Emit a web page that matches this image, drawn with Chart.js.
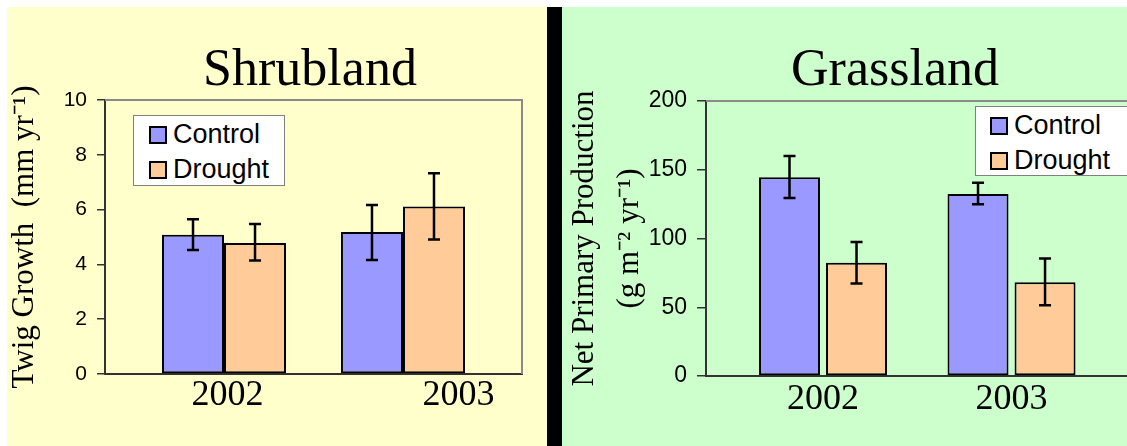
<!DOCTYPE html>
<html lang="en">
<head>
<meta charset="UTF-8">
<title>Shrubland / Grassland drought experiment</title>
<script src="https://cdn.jsdelivr.net/npm/chart.js"></script>
<style>
  html, body { margin: 0; padding: 0; overflow: hidden; }
  body { position: relative; width: 1127px; height: 446px; background: #fff;
         font-family: "Liberation Sans", Arial, sans-serif; }
  .panel { position: absolute; top: 7px; height: 439px; }
  #shrubPanel { left: 7px; width: 540px; background: #ffffcc; }
  #divider { left: 547px; width: 15px; background: #000; }
  #grassPanel { left: 562px; width: 600px; background: #ccffcc; }
  canvas { position: absolute; top: 0; }
  .title { position: absolute; top: 42px; transform: translateX(-50%); white-space: nowrap;
           font-family: "Liberation Serif", "Times New Roman", serif; font-size: 52px; line-height: 52px; }
  .legend { position: absolute; background: #fff; border: 1px solid #808080; box-sizing: border-box; padding-top: 1px; }
  .legend .row { display: flex; align-items: center; height: 35px; font-size: 27px; color: #000; }
  .legend .swatch { width: 18px; height: 18px; border: 2px solid #000; box-sizing: border-box; margin-right: 6px; }
</style>
</head>
<body>
  <div class="panel" id="shrubPanel"></div>
  <div class="panel" id="divider"></div>
  <div class="panel" id="grassPanel"></div>

  <canvas id="shrubChart" width="548" height="446" style="left:0"></canvas>
  <canvas id="grassChart" width="570" height="446" style="left:562px"></canvas>

  <div class="title" style="left:310px">Shrubland</div>
  <div class="title" style="left:895px">Grassland</div>

  <div class="legend" id="shrubLegend" style="left:133px; top:115px; width:152px; height:71px"></div>
  <div class="legend" id="grassLegend" style="left:975px; top:106px; width:170px; height:70px"></div>

<script>
  // categories and series
  const years = ['2002', '2003'];
  const seriesNames = ['Control', 'Drought'];
  const seriesColors = ['#9999ff', '#ffcc99'];

  // Shrubland - twig growth (mm yr-1), means and error bar ends
  const shrubControl = [5.08, 5.18];
  const shrubControlHigh = [5.65, 6.17];
  const shrubControlLow = [4.53, 4.16];
  const shrubDrought = [4.78, 6.11];
  const shrubDroughtHigh = [5.47, 7.33];
  const shrubDroughtLow = [4.14, 4.91];
  const shrubYTicks = [0, 2, 4, 6, 8, 10];

  // Grassland - net primary production (g m-2 yr-1)
  const grassControl = [144.5, 132.3];
  const grassControlHigh = [160, 140.5];
  const grassControlLow = [129.5, 125];
  const grassDrought = [82.4, 68.2];
  const grassDroughtHigh = [97.4, 85.4];
  const grassDroughtLow = [67.2, 51.5];
  const grassYTicks = [0, 50, 100, 150, 200];

  const serif = '"Liberation Serif", "Times New Roman", serif';
  const sans = '"Liberation Sans", Arial, sans-serif';

  // gray top / right edges of the plot box
  const plotFrame = {
    id: 'plotFrame',
    beforeDatasetsDraw(chart) {
      const { ctx, chartArea: a } = chart;
      ctx.save();
      ctx.strokeStyle = '#8a8a8a';
      ctx.lineWidth = 2;
      ctx.beginPath();
      ctx.moveTo(a.left, a.top);
      ctx.lineTo(a.right, a.top);
      ctx.lineTo(a.right, a.bottom);
      ctx.stroke();
      ctx.restore();
    }
  };

  // error bars from errHigh / errLow on each dataset
  const errorBars = {
    id: 'errorBars',
    afterDatasetsDraw(chart) {
      const ctx = chart.ctx;
      const y = chart.scales.y;
      ctx.save();
      ctx.strokeStyle = '#000';
      ctx.lineWidth = 2.5;
      chart.data.datasets.forEach((ds, i) => {
        chart.getDatasetMeta(i).data.forEach((bar, j) => {
          const top = y.getPixelForValue(ds.errHigh[j]);
          const bot = y.getPixelForValue(ds.errLow[j]);
          ctx.beginPath();
          ctx.moveTo(bar.x, top); ctx.lineTo(bar.x, bot);
          ctx.moveTo(bar.x - 6, top); ctx.lineTo(bar.x + 6, top);
          ctx.moveTo(bar.x - 6, bot); ctx.lineTo(bar.x + 6, bot);
          ctx.stroke();
        });
      });
      ctx.restore();
    }
  };

  function makeChart(id, p) {
    const toPoints = arr => arr.map((v, i) => ({ x: i, y: v }));
    return new Chart(document.getElementById(id), {
      type: 'bar',
      data: {
        datasets: [
          { label: seriesNames[0], data: toPoints(p.control), errHigh: p.controlHigh, errLow: p.controlLow,
            backgroundColor: seriesColors[0] },
          { label: seriesNames[1], data: toPoints(p.drought), errHigh: p.droughtHigh, errLow: p.droughtLow,
            backgroundColor: seriesColors[1] }
        ]
      },
      options: {
        responsive: false,
        animation: false,
        devicePixelRatio: 1,
        layout: { padding: { top: p.top, right: p.right, left: 0, bottom: 0 } },
        datasets: {
          bar: { borderColor: '#000', borderWidth: 2, borderSkipped: false,
                 categoryPercentage: p.catPct, barPercentage: p.barPct }
        },
        plugins: { legend: { display: false }, tooltip: { enabled: false } },
        scales: {
          x: {
            type: 'linear', min: p.xMin, max: p.xMax, offset: false,
            afterBuildTicks: s => { s.ticks = years.map((_, i) => ({ value: i + p.labelShift[i] })); },
            afterFit: s => { s.height = p.xHeight; s.paddingLeft = 0; s.paddingRight = 0; },
            ticks: { callback: (v, i) => years[i], color: '#000', autoSkip: false, maxRotation: 0,
                     font: { family: serif, size: 36 }, padding: p.xPad },
            grid: { drawOnChartArea: false, drawTicks: false },
            border: { color: '#333', width: 2 }
          },
          y: {
            min: 0, max: p.yTicks[p.yTicks.length - 1],
            afterBuildTicks: s => { s.ticks = p.yTicks.map(v => ({ value: v })); },
            afterFit: s => { s.width = p.yWidth; s.paddingTop = 0; s.paddingBottom = 0; },
            ticks: { color: '#000', font: { family: sans, size: p.tickSize }, padding: 10 },
            grid: { drawOnChartArea: false, tickLength: p.tickLen, color: '#333', lineWidth: 1.5 },
            border: { color: '#333', width: 2 },
            title: { display: true, text: p.yTitle, color: '#000',
                     font: { family: serif, size: p.titleSize, lineHeight: p.titleLH },
                     padding: { top: p.titlePad, bottom: 0 } }
          }
        }
      },
      plugins: [plotFrame, errorBars]
    });
  }

  function makeLegend(id, swatchLeft) {
    const box = document.getElementById(id);
    seriesNames.forEach((name, i) => {
      const row = document.createElement('div');
      row.className = 'row';
      row.innerHTML = `<span class="swatch" style="margin-left:${swatchLeft}px;background:${seriesColors[i]}"></span>${name}`;
      box.appendChild(row);
    });
  }

  makeChart('shrubChart', {
    control: shrubControl, controlHigh: shrubControlHigh, controlLow: shrubControlLow,
    drought: shrubDrought, droughtHigh: shrubDroughtHigh, droughtLow: shrubDroughtLow,
    yTicks: shrubYTicks,
    yTitle: 'Twig Growth  (mm yr\u207B\u00B9)',
    top: 100, right: 26, xHeight: 72, yWidth: 105,
    xMin: -0.665, xMax: 1.665, labelShift: [0.02, 0.31], xPad: 0,
    catPct: 0.693, barPct: 1,
    tickSize: 21, tickLen: 8, titleSize: 31, titleLH: 1.2, titlePad: 6
  });

  makeChart('grassChart', {
    control: grassControl, controlHigh: grassControlHigh, controlLow: grassControlLow,
    drought: grassDrought, droughtHigh: grassDroughtHigh, droughtLow: grassDroughtLow,
    yTicks: grassYTicks,
    yTitle: ['Net Primary Production', '(g m\u207B\u00B2 yr\u207B\u00B9)'],
    top: 101, right: 0, xHeight: 70, yWidth: 144,
    xMin: -0.6207, xMax: 1.639, labelShift: [0, 0], xPad: 2,
    catPct: 0.711, barPct: 0.91,
    tickSize: 23, tickLen: 9, titleSize: 31, titleLH: 1.45, titlePad: 0
  });

  makeLegend('shrubLegend', 15);
  makeLegend('grassLegend', 14);
</script>
</body>
</html>
